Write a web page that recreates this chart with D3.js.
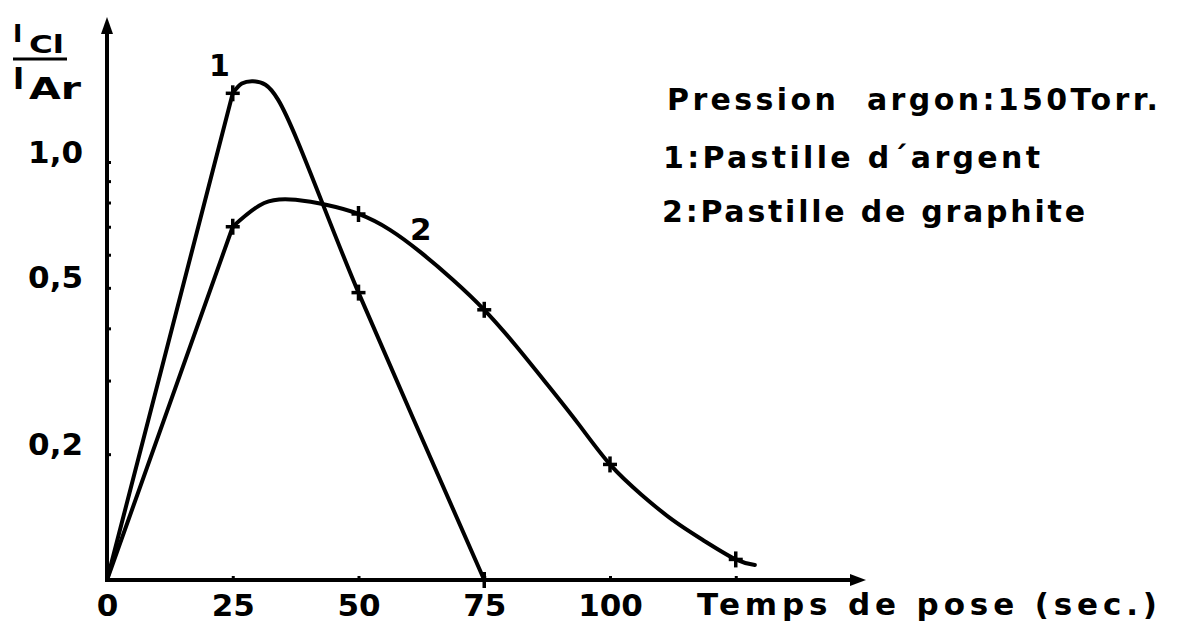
<!DOCTYPE html>
<meta charset="utf-8">
<style>
  body { margin: 0; background: #fff; }
  svg text { font-family: "DejaVu Sans", sans-serif; font-weight: bold; fill: #000; }
  .curve { fill: none; stroke: #000; stroke-width: 4; stroke-linejoin: round; stroke-linecap: round; }
  .mark line { stroke: #000; stroke-width: 3.5; }
  .axis .domain { display: none; }
  .axis line { stroke: #000; stroke-width: 3; }
  .axis text { font-size: 31px; }
</style>
<div class="chart"></div>
<script src="https://cdn.jsdelivr.net/npm/d3@7"></script>
<script>
    // measured points (the crosses)
    var argentPoints = [[25, 1.46], [50, 0.487], [75, 0.1]];
    var graphitePoints = [[25, 0.70], [50, 0.751], [75, 0.443], [100, 0.189], [125, 0.112]];

    // curves as traced on the drawing
    var argentTrace = [[0, 0.1], [25, 1.46], [26.8, 1.54], [29, 1.56], [31.5, 1.53],
        [34.0, 1.41], [50, 0.487], [75, 0.1]];
    var graphiteTrace = [[0, 0.1], [25, 0.70], [31.25, 0.798], [37.5, 0.812], [43.75, 0.789],
        [50, 0.751], [56.25, 0.688], [62.5, 0.606], [68.75, 0.523], [75, 0.443],
        [81.25, 0.364], [87.5, 0.294], [93.75, 0.236], [100, 0.189], [106.25, 0.160],
        [112.5, 0.139], [118.75, 0.124], [125, 0.112], [128.8, 0.1086]];

    var xTicks = [0, 25, 50, 75, 100, 125];
    var xLabels = ["0", "25", "50", "75", "100", ""];
    var yTicks = [0.2, 0.3, 0.4, 0.5, 0.6, 0.7, 0.8, 0.9, 1.0];
    var yLabels = {"1": "1,0", "0.5": "0,5", "0.2": "0,2"};

    var width = 1177, height = 628;

    var x = d3.scaleLinear().domain([0, 100]).range([107, 610]);
    var y = d3.scaleLog().domain([0.1, 1]).range([580, 162]);

    var svg = d3.select(".chart").append("svg")
        .attr("width", width)
        .attr("height", height);

    // axes lines with arrows
    svg.append("line").attr("x1", x(0)).attr("y1", y(0.1) + 2).attr("x2", x(0)).attr("y2", 30)
        .attr("stroke", "#000").attr("stroke-width", 4);
    svg.append("path").attr("d", "M" + x(0) + ",17L" + (x(0) - 6) + ",34L" + (x(0) + 6) + ",34Z");
    svg.append("line").attr("x1", x(0) - 2).attr("y1", y(0.1)).attr("x2", 852).attr("y2", y(0.1))
        .attr("stroke", "#000").attr("stroke-width", 4);
    svg.append("path").attr("d", "M866," + y(0.1) + "L850," + (y(0.1) - 6) + "L850," + (y(0.1) + 6) + "Z");

    var xAxis = d3.axisBottom(x)
        .tickValues(xTicks)
        .tickSize(-4)
        .tickPadding(14)
        .tickFormat(function(d, i) { return xLabels[i]; });

    svg.append("g")
        .attr("class", "x axis")
        .attr("transform", "translate(0," + y(0.1) + ")")
        .call(xAxis);

    var yAxis = d3.axisLeft(y)
        .tickValues(yTicks)
        .tickSize(-4)
        .tickPadding(24)
        .tickFormat(function(d) { return yLabels[String(+d.toFixed(1))] || ""; });

    svg.append("g")
        .attr("class", "y axis")
        .attr("transform", "translate(" + x(0) + ",0)")
        .call(yAxis)
        .selectAll("text")
        .attr("dy", "0");

    // curves: straight rise to the first cross, then smooth
    var line = d3.line()
        .x(function(d) { return x(d[0]); })
        .y(function(d) { return y(d[1]); });

    [[argentTrace, d3.curveCatmullRom.alpha(0.5)], [graphiteTrace, d3.curveNatural]].forEach(function(s) {
        var tr = s[0];
        svg.append("path").attr("class", "curve")
            .attr("d", line.curve(d3.curveLinear)(tr.slice(0, 2)));
        svg.append("path").attr("class", "curve")
            .attr("d", line.curve(s[1])(tr.slice(1)));
    });

    // crosses
    var marks = svg.selectAll(".mark")
        .data(argentPoints.concat(graphitePoints))
        .enter().append("g")
        .attr("class", "mark")
        .attr("transform", function(d) { return "translate(" + x(d[0]) + "," + y(d[1]) + ")"; });
    marks.append("line").attr("x1", -7).attr("x2", 7);
    marks.append("line").attr("y1", -8).attr("y2", 8);

    // curve numbers
    svg.append("text").attr("x", 209).attr("y", 76).attr("font-size", 30).text("1");
    svg.append("text").attr("x", 410).attr("y", 240).attr("font-size", 31).text("2");

    // y axis title as fraction
    svg.append("text").attr("x", 13).attr("y", 42).attr("font-size", 25).text("I");
    svg.append("text").attr("x", 29).attr("y", 53).attr("font-size", 24)
        .attr("textLength", 35).attr("lengthAdjust", "spacingAndGlyphs").text("Cl");
    svg.append("line").attr("x1", 13).attr("x2", 67).attr("y1", 59).attr("y2", 59)
        .attr("stroke", "#000").attr("stroke-width", 3);
    svg.append("text").attr("x", 13).attr("y", 89).attr("font-size", 30).text("I");
    svg.append("text").attr("x", 29).attr("y", 99).attr("font-size", 30)
        .attr("textLength", 52).attr("lengthAdjust", "spacingAndGlyphs").text("Ar");

    // x axis title
    svg.append("text").attr("x", 697).attr("y", 615).attr("font-size", 31)
        .attr("textLength", 460).attr("lengthAdjust", "spacing")
        .text("Temps de pose (sec.)");

    // legend text
    var legendLines = ["Pression  argon:150Torr.", "1:Pastille d\u00b4argent", "2:Pastille de graphite"];
    var legendX = [667, 663, 662];
    var legendY = [110, 168, 222];
    var legendW = [491, 377, 423];
    legendLines.forEach(function(t, i) {
        svg.append("text").attr("x", legendX[i]).attr("y", legendY[i])
            .attr("font-size", 30)
            .attr("textLength", legendW[i]).attr("lengthAdjust", "spacing")
            .attr("xml:space", "preserve")
            .text(t);
    });
</script>
